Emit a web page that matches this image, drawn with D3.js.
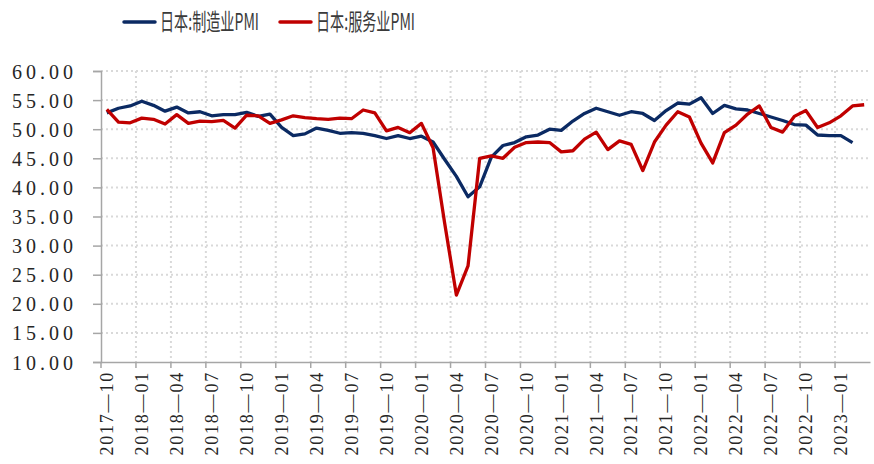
<!DOCTYPE html>
<html><head><meta charset="utf-8">
<script src="https://cdn.jsdelivr.net/npm/d3@7"></script>
<style>body{margin:0;background:#fff}svg{display:block}</style>
</head><body><svg id="c" width="874" height="464"></svg>
<script>
const months = [];
for (let y = 2017, m = 10; y < 2023 || (y === 2023 && m <= 3); ) {
  months.push(y + "-" + String(m).padStart(2, "0"));
  m++; if (m > 12) { m = 1; y++; }
}
const seriesNames = ["日本:制造业PMI", "日本:服务业PMI"];
const manufacturing = [52.8,53.6,54.0,54.8,54.1,53.1,53.8,52.8,53.0,52.3,52.5,52.5,52.9,52.2,52.6,50.3,48.9,49.2,50.2,49.8,49.3,49.4,49.3,48.9,48.4,48.9,48.4,48.8,47.8,44.8,41.9,38.4,40.1,45.2,47.2,47.7,48.7,49.0,50.0,49.8,51.4,52.7,53.6,53.0,52.4,53.0,52.7,51.5,53.2,54.5,54.3,55.4,52.7,54.1,53.5,53.3,52.7,52.1,51.5,50.8,50.7,49.0,48.9,48.9,47.7];
const services = [53.4,51.2,51.1,51.9,51.7,50.9,52.5,51.0,51.4,51.3,51.5,50.2,52.4,52.3,51.0,51.6,52.3,52.0,51.8,51.7,51.9,51.8,53.3,52.8,49.7,50.3,49.4,51.0,46.8,33.8,21.5,26.5,45.0,45.4,45.0,46.9,47.7,47.8,47.7,46.1,46.3,48.3,49.5,46.5,48.0,47.4,42.9,47.8,50.7,53.0,52.1,47.6,44.2,49.4,50.7,52.6,54.0,50.3,49.5,52.2,53.2,50.3,51.1,52.3,54.0,54.2];
const yTicks = [10,15,20,25,30,35,40,45,50,55,60];
const colors = ["#0b2a63", "#c00000"];

const svg = d3.select("#c");
const x = d3.scaleBand().domain(months).range([101, 870]);
const y = d3.scaleLinear().domain([10, 60]).range([362, 71]);
const cx = d => x(d) + x.bandwidth() / 2;
const labelMonths = months.filter((d, i) => i % 3 === 0);

// gridlines
svg.append("g").selectAll("line").data(yTicks.slice(1)).join("line")
  .attr("x1", 101).attr("x2", 870).attr("y1", d => y(d)).attr("y2", d => y(d))
  .attr("stroke", "#d9d9d9").attr("stroke-width", 2).attr("stroke-dasharray", "2,3");
svg.append("g").selectAll("line").data(labelMonths.slice(1)).join("line")
  .attr("x1", d => x(d)).attr("x2", d => x(d)).attr("y1", 71).attr("y2", 362)
  .attr("stroke", "#d9d9d9").attr("stroke-width", 2).attr("stroke-dasharray", "2,3");

// y axis
const yAxis = svg.append("g").attr("transform", "translate(101,0)")
  .call(d3.axisLeft(y).tickValues(yTicks).tickFormat(d3.format(".2f")).tickSize(8));
yAxis.select(".domain").attr("stroke", "#a6a6a6").attr("stroke-width", 1.5);
yAxis.selectAll(".tick line").attr("stroke", "#a6a6a6").attr("stroke-width", 1.5);
yAxis.selectAll("text").attr("font-family", "'Liberation Serif', serif").attr("font-size", 20)
  .attr("letter-spacing", 4).attr("fill", "#262626").attr("x", -24).attr("dy", "0.35em");

// x axis
const xAxis = svg.append("g").attr("transform", "translate(0,362)")
  .call(d3.axisBottom(x).tickValues(labelMonths).tickSize(0).tickFormat(d => d));
xAxis.select(".domain").attr("stroke", "#a6a6a6").attr("stroke-width", 1.5);
xAxis.selectAll(".tick text").attr("font-family", "'Liberation Serif', serif").attr("font-size", 18)
  .attr("letter-spacing", 1.8).attr("fill", "#262626")
  .attr("transform", "rotate(-90)").attr("x", -9).attr("y", 0).attr("dy", "0.35em")
  .attr("text-anchor", "end").text(d => d.replace("-", "—"));
svg.append("g").selectAll("line").data(labelMonths).join("line")
  .attr("x1", d => x(d)).attr("x2", d => x(d)).attr("y1", 362).attr("y2", 368)
  .attr("stroke", "#a6a6a6").attr("stroke-width", 1.5);

// lines
const line = d3.line().defined(d => d[1] != null).x(d => cx(d[0])).y(d => y(d[1]));
[manufacturing, services].forEach((s, i) => {
  svg.append("path").datum(s.map((v, j) => [months[j], v]))
    .attr("d", line).attr("fill", "none").attr("stroke", colors[i])
    .attr("stroke-width", 3.3).attr("stroke-linejoin", "round");
});

// legend
const legX = [124, 280];
seriesNames.forEach((n, i) => {
  svg.append("line").attr("x1", legX[i]).attr("x2", legX[i] + 31).attr("y1", 22).attr("y2", 22)
    .attr("stroke", colors[i]).attr("stroke-width", 3.5).attr("stroke-linecap", "round");
  svg.append("text").attr("x", legX[i] + 36).attr("y", 22).attr("dy", "0.36em")
    .attr("font-family", "'Noto Sans CJK SC', sans-serif").attr("font-size", 23)
    .attr("fill", "#3a3a3a").attr("textLength", 99).attr("lengthAdjust", "spacingAndGlyphs").text(n);
});
</script></body></html>
